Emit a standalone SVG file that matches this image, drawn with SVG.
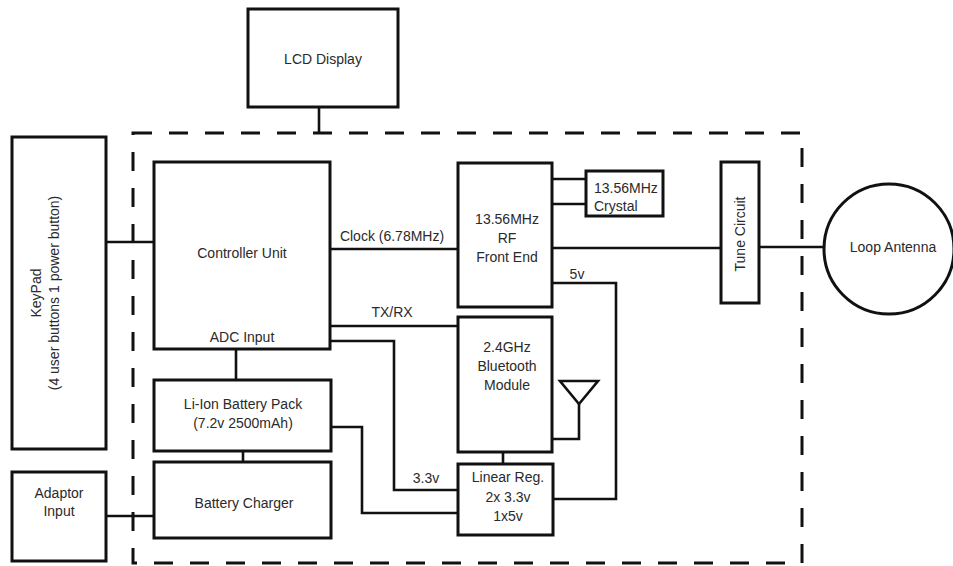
<svg xmlns="http://www.w3.org/2000/svg" width="953" height="566" viewBox="0 0 953 566">
<style>
.box{fill:#fff;stroke:#111;stroke-width:3}
.ln{fill:none;stroke:#111;stroke-width:2.6}
.dash{fill:none;stroke:#111;stroke-width:3;stroke-dasharray:19 17}
text{font-family:"Liberation Sans",Arial,sans-serif;font-size:14px;fill:#2a2a2a;text-anchor:middle}
.l{text-anchor:start}
</style>
<rect width="953" height="566" fill="#fff"/>
<g id="boundary">
<rect class="dash" x="133" y="133" width="669" height="430"/>
</g>
<g id="connectors">
<line class="ln" x1="319" y1="107" x2="319" y2="133"/>
<line class="ln" x1="106" y1="242" x2="154" y2="242"/>
<line class="ln" x1="106" y1="516" x2="154" y2="516"/>
<line class="ln" x1="236" y1="349" x2="236" y2="380"/>
<line class="ln" x1="243" y1="451" x2="243" y2="462"/>
<line class="ln" x1="330" y1="249" x2="458" y2="249"/>
<line class="ln" x1="330" y1="326" x2="458" y2="326"/>
<polyline class="ln" points="330,341 394,341 394,490 458,490"/>
<polyline class="ln" points="331,427 362,427 362,513 458,513"/>
<line class="ln" x1="552" y1="179" x2="586" y2="179"/>
<line class="ln" x1="552" y1="204" x2="586" y2="204"/>
<line class="ln" x1="552" y1="248" x2="721" y2="248"/>
<line class="ln" x1="759" y1="247" x2="824" y2="247"/>
<polyline class="ln" points="552,283 616,283 616,499 553,499"/>
<line class="ln" x1="503" y1="452" x2="503" y2="464"/>
<polyline class="ln" points="552,439 579,439 579,404"/>
<polygon class="ln" points="560,381 598,381 579,404"/>
</g>
<g id="lcd">
<rect class="box" x="248" y="9" width="150" height="98"/>
<text x="323" y="64">LCD Display</text>
</g>
<g id="keypad">
<rect class="box" x="12" y="137" width="94" height="312"/>
<text transform="translate(41,293) rotate(-90)">KeyPad</text>
<text transform="translate(59,293) rotate(-90)">(4 user buttons 1 power button)</text>
</g>
<g id="adaptor">
<rect class="box" x="12" y="472" width="94" height="89"/>
<text x="59" y="498">Adaptor</text>
<text x="59" y="516">Input</text>
</g>
<g id="controller">
<rect class="box" x="154" y="162" width="176" height="187"/>
<text x="242" y="258">Controller Unit</text>
<text x="242" y="342">ADC Input</text>
</g>
<g id="battery">
<rect class="box" x="154" y="380" width="177" height="71"/>
<text x="243" y="409">Li-Ion Battery Pack</text>
<text x="243" y="428">(7.2v 2500mAh)</text>
</g>
<g id="charger">
<rect class="box" x="154" y="462" width="177" height="76"/>
<text x="244" y="508">Battery Charger</text>
</g>
<g id="rf">
<rect class="box" x="458" y="163" width="94" height="144"/>
<text x="507" y="224">13.56MHz</text>
<text x="507" y="243">RF</text>
<text x="507" y="262">Front End</text>
</g>
<g id="crystal">
<rect class="box" x="586" y="171" width="77" height="45"/>
<text class="l" x="594" y="193">13.56MHz</text>
<text class="l" x="594" y="211">Crystal</text>
</g>
<g id="bluetooth">
<rect class="box" x="458" y="317" width="94" height="135"/>
<text x="507" y="352">2.4GHz</text>
<text x="507" y="371">Bluetooth</text>
<text x="507" y="390">Module</text>
</g>
<g id="linreg">
<rect class="box" x="458" y="464" width="95" height="71"/>
<text x="508" y="482">Linear Reg.</text>
<text x="508" y="502">2x 3.3v</text>
<text x="508" y="521">1x5v</text>
</g>
<g id="tune">
<rect class="box" x="721" y="162" width="38" height="141"/>
<text transform="translate(745,234) rotate(-90)">Tune Circuit</text>
</g>
<g id="loop">
<circle class="box" cx="889" cy="249" r="65" stroke-width="2.6"/>
<text x="893" y="252">Loop Antenna</text>
</g>
<g id="labels">
<text x="392" y="241">Clock (6.78MHz)</text>
<text x="392" y="317">TX/RX</text>
<text x="426" y="483">3.3v</text>
<text x="577" y="279">5v</text>
</g>
</svg>
